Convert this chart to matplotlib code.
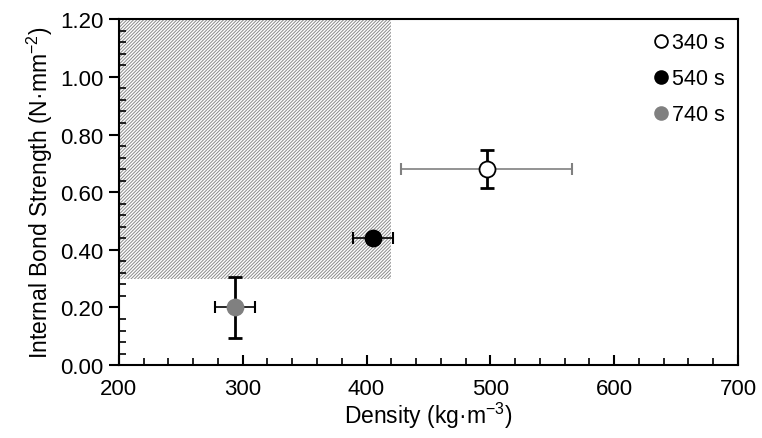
import matplotlib
matplotlib.use("Agg")
import matplotlib.pyplot as plt
from matplotlib.patches import Rectangle
from matplotlib.ticker import MultipleLocator, FormatStrFormatter

plt.rcParams['font.family'] = ['Liberation Sans', 'DejaVu Sans']
plt.rcParams['mathtext.fontset'] = 'custom'
plt.rcParams['mathtext.rm'] = 'Liberation Sans'
plt.rcParams['mathtext.it'] = 'Liberation Sans'
plt.rcParams['hatch.linewidth'] = 0.7

labels = ["340 s", "540 s", "740 s"]
density = [497, 405, 294]
density_err = [69, 16, 16]
ib = [0.68, 0.44, 0.20]
ib_err = [0.067, 0.012, 0.105]
face = ["white", "black", "#808080"]
xerr_color = ["#808080", "black", "black"]

region_x = [200, 420]
region_y = [0.30, 1.20]

fig = plt.figure(figsize=(7.62, 4.39), dpi=100)
ax = fig.add_axes([0.156, 0.166, 0.8125, 0.788])

ax.add_patch(Rectangle((region_x[0], region_y[0]), region_x[1]-region_x[0], region_y[1]-region_y[0],
                       facecolor="white", edgecolor="#8a8a8a", hatch="//////////", linewidth=0, zorder=1))

for i in range(len(labels)):
    ax.errorbar(density[i], ib[i], xerr=density_err[i], fmt="none", ecolor=xerr_color[i],
                elinewidth=1.2, capsize=4, capthick=1.5, zorder=3)
    ax.errorbar(density[i], ib[i], yerr=ib_err[i], fmt="none", ecolor="black",
                elinewidth=2, capsize=5, capthick=2, zorder=3)
    ax.plot(density[i], ib[i], "o", markersize=11.5, markerfacecolor=face[i],
            markeredgecolor="black" if i < 2 else face[i], markeredgewidth=1.3, linestyle="none",
            label=labels[i], zorder=4)

ax.set_xlim(200, 700)
ax.set_ylim(0, 1.2)
ax.xaxis.set_major_locator(MultipleLocator(100))
ax.xaxis.set_minor_locator(MultipleLocator(20))
ax.yaxis.set_major_locator(MultipleLocator(0.2))
ax.yaxis.set_minor_locator(MultipleLocator(0.04))
ax.yaxis.set_major_formatter(FormatStrFormatter("%.2f"))

ax.tick_params(axis="x", which="major", direction="in", length=7, width=1.5, labelsize=16, pad=9)
ax.tick_params(axis="x", which="minor", direction="in", length=5, width=1.2)
ax.tick_params(axis="y", which="major", direction="out", length=7, width=1.5, labelsize=16, pad=4)
ax.tick_params(axis="y", which="minor", direction="in", length=5, width=1.2)
for s in ax.spines.values():
    s.set_linewidth(1.5)

ax.set_xlabel("Density (kg·m$^{-3}$)", fontsize=16.5, labelpad=1)
ax.set_ylabel("Internal Bond Strength (N·mm$^{-2}$)", fontsize=16.5, labelpad=4)

ax.legend(loc="upper right", frameon=False, fontsize=15.5, handletextpad=0.1, markerscale=0.8,
          labelspacing=0.7, borderaxespad=0.2, handlelength=0.8)

fig.savefig("out.png", dpi=100)
